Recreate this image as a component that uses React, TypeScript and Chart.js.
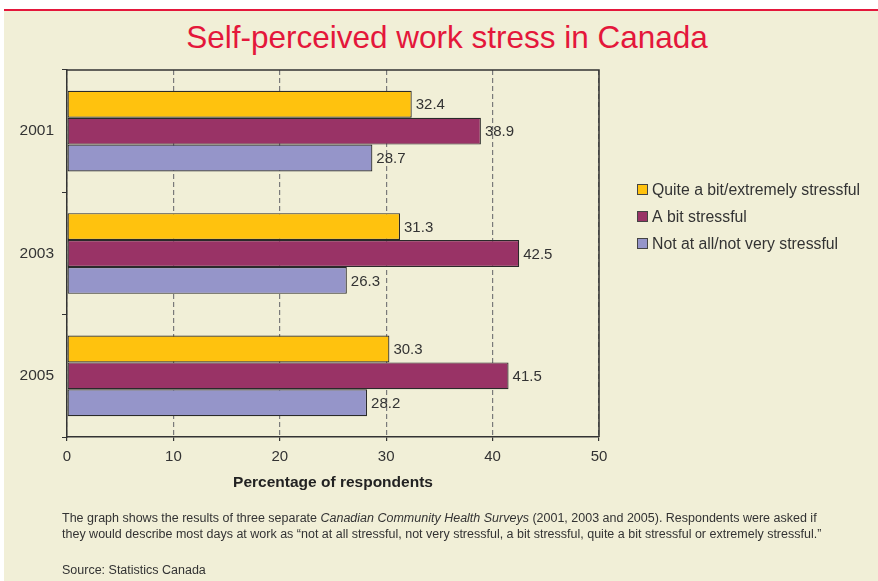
import React, { useEffect, useRef } from 'react';
import { Chart, registerables } from 'chart.js';

Chart.register(...registerables);

const years = ['2001', '2003', '2005'];
const quiteABit = [32.4, 31.3, 30.3];
const aBit = [38.9, 42.5, 41.5];
const notAtAll = [28.7, 26.3, 28.2];
const seriesLabels = ['Quite a bit/extremely stressful', 'A bit stressful', 'Not at all/not very stressful'];
const seriesColors = ['#FFC20E', '#993366', '#9595C9'];
const xMin = 0;
const xMax = 50;
const xStep = 10;

const FONT = '"Liberation Sans", Arial, sans-serif';
const TEXT = '#333333';

const overlayPlugin = {
  id: 'overlay',
  afterDatasetsDraw(chart: any) {
    const { ctx, chartArea } = chart;
    ctx.save();
    // top and right frame
    ctx.strokeStyle = '#333';
    ctx.lineWidth = 1.5;
    ctx.beginPath();
    ctx.moveTo(chartArea.left, chartArea.top);
    ctx.lineTo(chartArea.right, chartArea.top);
    ctx.lineTo(chartArea.right, chartArea.bottom);
    ctx.stroke();
    // value labels
    ctx.font = `15px ${FONT}`;
    ctx.fillStyle = TEXT;
    ctx.textAlign = 'left';
    ctx.textBaseline = 'middle';
    chart.data.datasets.forEach((ds: any, di: number) => {
      const meta = chart.getDatasetMeta(di);
      meta.data.forEach((bar: any, i: number) => {
        ctx.fillText(String(ds.data[i]), bar.x + 4, bar.y + 1);
      });
    });
    // legend
    const lx = 637;
    const ly = [190, 217, 244];
    ctx.font = `15.8px ${FONT}`;
    chart.data.datasets.forEach((ds: any, di: number) => {
      const y = ly[di];
      ctx.fillStyle = ds.backgroundColor;
      ctx.fillRect(lx, y - 6, 11, 11);
      ctx.strokeStyle = '#444';
      ctx.lineWidth = 1;
      ctx.strokeRect(lx + 0.5, y - 5.5, 10, 10);
      ctx.fillStyle = TEXT;
      ctx.fillText(ds.label, lx + 15, y + 1);
    });
    ctx.restore();
  },
};

function ChartCanvas() {
  const ref = useRef<HTMLCanvasElement>(null);
  useEffect(() => {
    if (!ref.current) return;
    const chart = new Chart(ref.current, {
      type: 'bar',
      data: {
        labels: years,
        datasets: [quiteABit, aBit, notAtAll].map((d, i) => ({
          label: seriesLabels[i],
          data: d,
          backgroundColor: seriesColors[i],
          borderColor: '#2a2a2a',
          borderWidth: 1.2,
          borderSkipped: false,
          categoryPercentage: 0.66,
          barPercentage: 1,
        })),
      },
      options: {
        indexAxis: 'y',
        animation: false,
        responsive: false,
        maintainAspectRatio: false,
        layout: { padding: { left: 0, top: 70, right: 279, bottom: 86 } },
        plugins: { legend: { display: false }, tooltip: { enabled: false }, title: { display: false } },
        scales: {
          x: {
            min: xMin,
            max: xMax,
            ticks: { stepSize: xStep, color: TEXT, font: { size: 15, family: FONT }, padding: 7 },
            grid: { color: '#7a7a7a', lineWidth: 1.2, tickColor: '#333', tickLength: 4, drawOnChartArea: true },
            border: { display: true, color: '#333', width: 1.5, dash: [5, 3] },
            title: {
              display: true,
              text: 'Percentage of respondents',
              color: '#222',
              font: { size: 15.5, weight: 'bold', family: FONT },
              padding: { top: 4, bottom: 3 },
            },
            afterFit(scale: any) {
              scale.height = 58;
            },
          },
          y: {
            offset: true,
            ticks: { color: TEXT, font: { size: 15.5, family: FONT }, padding: 8 },
            grid: { display: true, drawOnChartArea: false, offset: true, tickLength: 5, tickColor: '#333' },
            border: { display: true, color: '#333', width: 1.5 },
            afterFit(scale: any) {
              scale.width = 67;
            },
          },
        },
      } as any,
      plugins: [overlayPlugin],
    });
    return () => chart.destroy();
  }, []);
  return <canvas ref={ref} width={878} height={581} style={{ position: 'absolute', left: 0, top: 0, width: 878, height: 581 }} />;
}

export default function App() {
  return (
    <div style={{ position: 'fixed', left: 0, top: 0, width: 878, height: 581, background: '#fff', overflow: 'hidden', fontFamily: FONT }}>
      <div style={{ position: 'absolute', left: 4, top: 11, width: 874, height: 570, background: '#F1EFD7' }} />
      <div style={{ position: 'absolute', left: 4, top: 9, width: 874, height: 2, background: '#E4173B' }} />
      <div style={{ position: 'absolute', left: 0, top: 16, width: 894, textAlign: 'center', color: '#E4173B', fontSize: 31.5, lineHeight: '42px' }}>
        Self-perceived work stress in Canada
      </div>
      <ChartCanvas />
      <div style={{ position: 'absolute', left: 62, top: 510, color: '#333', fontFamily: '"Liberation Sans Narrow", "Arial Narrow", sans-serif', fontSize: 12.5, lineHeight: '16px', whiteSpace: 'nowrap' }}>
        <div>The graph shows the results of three separate <i>Canadian Community Health Surveys</i> (2001, 2003 and 2005). Respondents were asked if</div>
        <div>they would describe most days at work as “not at all stressful, not very stressful, a bit stressful, quite a bit stressful or extremely stressful.”</div>
        <div style={{ marginTop: 20 }}>Source: Statistics Canada</div>
      </div>
    </div>
  );
}
